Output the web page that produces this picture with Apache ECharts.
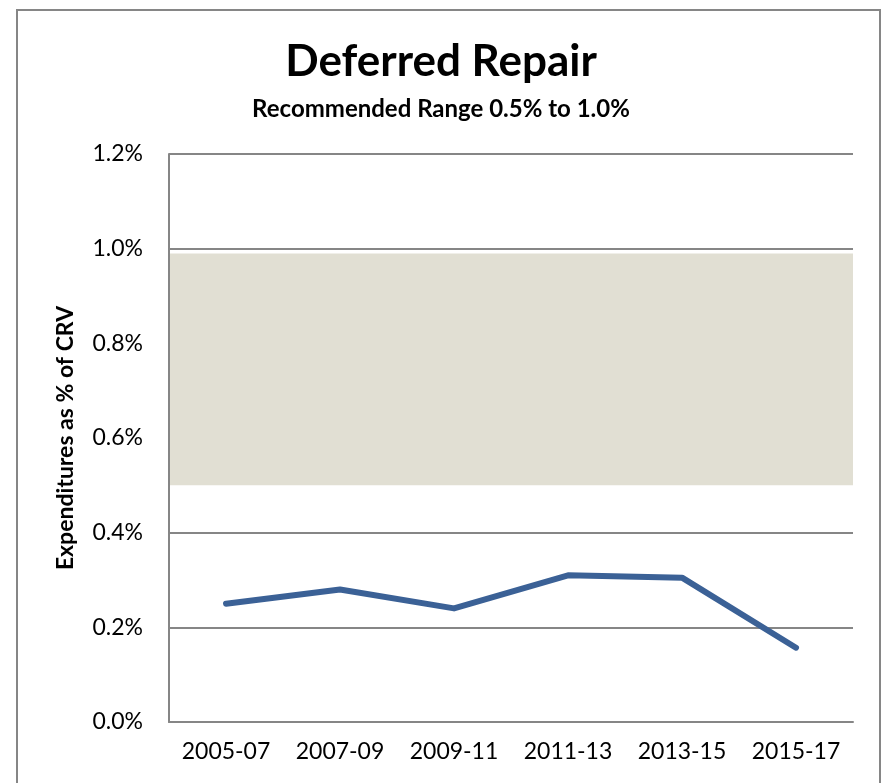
<!DOCTYPE html>
<html>
<head>
<meta charset="utf-8">
<script src="https://cdn.jsdelivr.net/npm/echarts@6/dist/echarts.min.js"></script>
<style>
  html, body { margin: 0; padding: 0; background: #fff; }
  #chart { width: 882px; height: 783px; }
</style>
</head>
<body>
<div id="chart"></div>
<script>
// Deferred repair spending vs recommended range
const periods = ['2005-07', '2007-09', '2009-11', '2011-13', '2013-15', '2015-17'];
const spendPct = [0.25, 0.28, 0.24, 0.31, 0.305, 0.157];
const rangeLow = 0.5;
const rangeHigh = 0.99;
const yTicks = { min: 0, max: 1.2, interval: 0.2 };

const chart = echarts.init(document.getElementById('chart'));
const fontFamily = 'Lato, "Open Sans", sans-serif';

chart.setOption({
    backgroundColor: '#fff',
    animation: false,
    title: [
        {
            text: 'Deferred Repair', left: 'center', top: 35,
            textStyle: { fontFamily, fontSize: 44, fontWeight: 'bold', color: '#000' }
        },
        {
            text: 'Recommended Range 0.5% to 1.0%', left: 'center', top: 92,
            textStyle: { fontFamily, fontSize: 24, fontWeight: 'bold', color: '#000' }
        }
    ],
    graphic: [{
        type: 'rect', silent: true,
        shape: { x: 17, y: 10, width: 863, height: 800 },
        style: { fill: 'none', stroke: '#868686', lineWidth: 2 }
    }],
    grid: { left: 169, right: 29, top: 154, bottom: 61 },
    xAxis: {
        type: 'category', data: periods, boundaryGap: true,
        axisLine: { lineStyle: { color: '#868686', width: 2 } },
        axisTick: { show: false },
        axisLabel: { fontFamily, fontSize: 23, color: '#000', margin: 18, interval: 0, hideOverlap: false }
    },
    yAxis: {
        type: 'value', min: yTicks.min, max: yTicks.max, interval: yTicks.interval, z: 1,
        name: 'Expenditures as % of CRV', nameLocation: 'middle', nameGap: 92, nameRotate: 90,
        nameTextStyle: { fontFamily, fontSize: 23, fontWeight: 'bold', color: '#000' },
        axisLine: { show: true, lineStyle: { color: '#868686', width: 2 } },
        axisTick: { show: false },
        axisLabel: { fontFamily, fontSize: 23, color: '#000', margin: 26, formatter: v => v.toFixed(1) + '%' },
        splitLine: { lineStyle: { color: '#868686', width: 2 } }
    },
    series: [
        {
            name: 'range', type: 'line', data: [], z: 0, silent: true,
            markArea: {
                silent: true,
                itemStyle: { color: '#e1dfd3' },
                data: [[{ yAxis: rangeLow }, { yAxis: rangeHigh }]]
            }
        },
        {
            name: 'Deferred Repair', type: 'line', data: spendPct, z: 3,
            symbol: 'none',
            lineStyle: { color: '#3b6196', width: 6, cap: 'round', join: 'round' }
        }
    ]
});
</script>
</body>
</html>
